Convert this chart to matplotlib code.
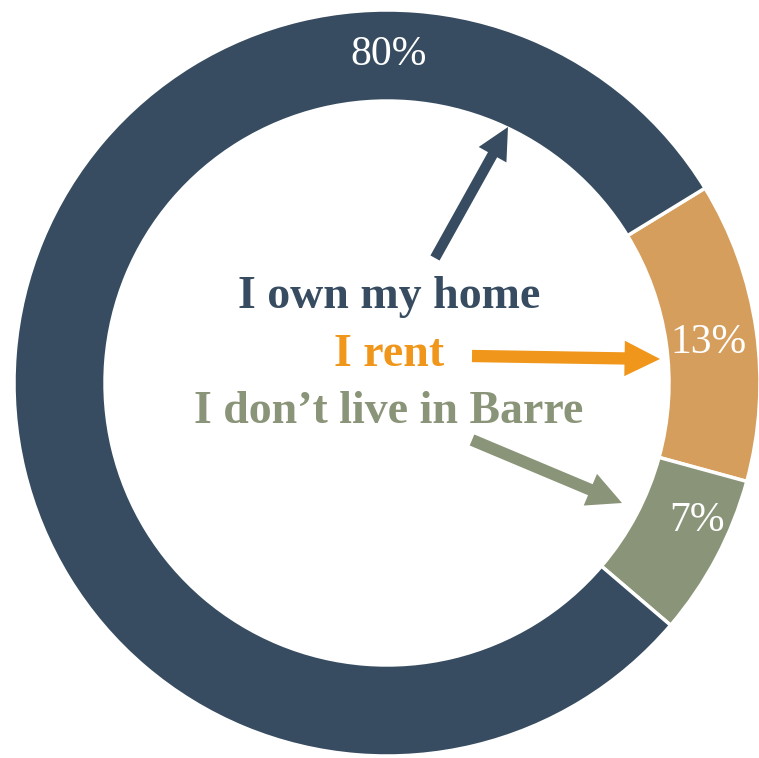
import matplotlib.pyplot as plt

labels = ["I rent", "I don\u2019t live in Barre", "I own my home"]
shares = [13, 7, 80]
colors = ["#D69E5C", "#8A9478", "#374C60"]
text_colors = ["#F0961A", "#8A9478", "#374C60"]

plt.rcParams["font.family"] = ["Liberation Serif", "DejaVu Serif"]

fig = plt.figure(figsize=(7.59, 7.58), dpi=100)
ax = fig.add_axes([0, 0, 1, 1])

R = 373.0  # outer radius in px, used for layout


def px(x, y):
    return ((x - 387) / R, (383 - y) / R)


wedges, texts, autotexts = ax.pie(
    shares, colors=colors, startangle=31.5, counterclock=False,
    radius=1.0, wedgeprops=dict(width=0.244, edgecolor="white", linewidth=2.5),
    autopct="%d%%", pctdistance=0.88,
    textprops=dict(color="white", fontsize=30))

# percent labels sit where the original put them
pct_pos = [(708, 343), (697, 521), (389, 55)]
for t, (x, y) in zip(autotexts, pct_pos):
    t.set_position(px(x, y))

# center legend text
ax.text(*px(389, 297), labels[2], ha="center", va="center",
        fontsize=33, fontweight="bold", color=text_colors[2])
ax.text(*px(389, 355), labels[0], ha="center", va="center",
        fontsize=33, fontweight="bold", color=text_colors[0])
ax.text(*px(389, 412), labels[1], ha="center", va="center",
        fontsize=33, fontweight="bold", color=text_colors[1])

# arrows
arrows = [((435, 258), (508, 127), colors[2], 0.028, 0.085),
          ((472, 356), (660, 359), text_colors[0], 0.033, 0.095),
          ((472, 440), (622, 503), colors[1], 0.032, 0.092)]
for (x0, y0), (x1, y1), c, w, hw in arrows:
    sx, sy = px(x0, y0)
    ex, ey = px(x1, y1)
    ax.arrow(sx, sy, ex - sx, ey - sy, width=w, head_width=hw,
             head_length=hw, length_includes_head=True, color=c, lw=0)

ax.set_xlim(-387 / R, (759 - 387) / R)
ax.set_ylim(-(758 - 383) / R, 383 / R)
ax.set_aspect("auto")
ax.axis("off")

fig.savefig("out.png", dpi=100)
